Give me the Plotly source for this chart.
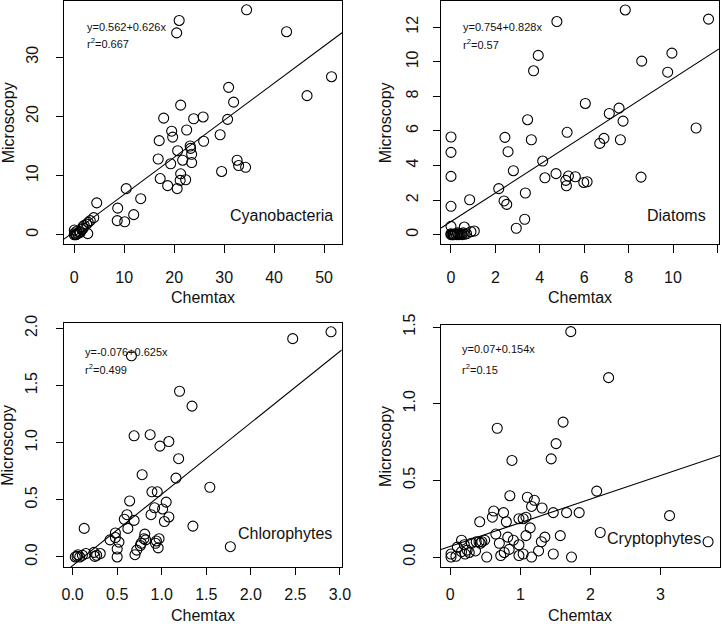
import plotly.graph_objects as go
import numpy as np

# ---------------- data ----------------
groups = ["Cyanobacteria", "Diatoms", "Chlorophytes", "Cryptophytes"]
intercepts = [0.562, 0.754, -0.076, 0.07]
slopes = [0.626, 0.828, 0.625, 0.154]
eq_labels = ["y=0.562+0.626x", "y=0.754+0.828x", "y=-0.076+0.625x", "y=0.07+0.154x"]
r2_labels = ["0.667", "0.57", "0.499", "0.15"]

cyano_x = [34.5, 21.0, 20.5, 42.5, 51.5, 46.6, 30.9, 31.9, 21.3, 30.7, 17.9, 23.9, 25.8,
           19.5, 19.7, 22.5, 29.2, 25.9, 17.0, 23.2, 23.3, 20.7, 23.5, 16.8, 21.7, 23.5,
           19.3, 32.6, 32.9, 34.3, 29.5, 21.3, 21.2, 22.3, 17.2, 18.7, 20.6, 10.4, 13.3,
           4.5, 8.7, 11.9, 8.6, 10.1,
           0.0, 0.0, 0.1, 0.4, 0.7, 0.5, 1.0, 1.5, 1.7, 2.0, 2.5, 2.8, 3.2, 3.9, 2.7, 1.8, 1.2, 0.3]
cyano_y = [38.0, 36.2, 34.1, 34.3, 26.7, 23.5, 24.9, 22.4, 21.9, 19.5, 19.7, 19.6, 19.9,
           17.5, 16.5, 17.7, 16.9, 15.8, 15.9, 15.0, 14.6, 14.2, 13.6, 12.8, 12.6, 12.2,
           12.0, 12.6, 11.7, 11.4, 10.7, 10.3, 9.2, 9.3, 9.5, 8.3, 7.8, 7.8, 6.1,
           5.4, 4.5, 3.4, 2.4, 2.2,
           0.8, 0.0, 0.3, 0.1, 0.2, 0.6, 0.5, 0.9, 1.35, 1.6, 1.8, 2.1, 2.4, 2.9, 0.2, 1.1, 0.4, 0.0]

diatom_x = [7.85, 11.6, 4.77, 3.93, 3.72, 9.95, 8.59, 9.76, 11.04, 6.05, 7.13, 7.57, 7.75,
            3.45, 6.89, 6.70, 7.63, 5.23, 2.43, 3.62, 2.57, 0.0, 0.0, 0.0, 0.0, 2.81, 4.13,
            4.73, 4.23, 5.17, 5.29, 5.20, 5.60, 5.98, 6.13, 8.56, 2.15, 3.35, 2.39, 2.51,
            0.84, 3.32, 2.94, 0.0, 1.05, 0.9, 0.6,
            0.0, 0.05, 0.1, 0.15, 0.2, 0.25, 0.3, 0.35, 0.4, 0.45, 0.5, 0.6, 0.7, 0.55, 0.3, 0.1, 0.0]
diatom_y = [13.0, 12.47, 12.33, 10.37, 9.48, 10.5, 10.04, 9.40, 6.17, 7.59, 7.01, 7.32, 6.57,
            6.65, 5.57, 5.28, 5.49, 5.92, 5.63, 5.49, 4.80, 5.65, 4.76, 3.37, 1.64, 3.70, 4.26,
            3.53, 3.29, 3.14, 3.39, 2.83, 3.35, 3.02, 3.06, 3.33, 2.66, 2.41, 1.95, 1.75,
            2.02, 0.89, 0.37, 0.48, 0.21, 0.17, 0.44,
            0.0, 0.0, 0.02, 0.0, 0.05, 0.0, 0.05, 0.0, 0.02, 0.05, 0.0, 0.02, 0.05, 0.1, 0.1, 0.0, 0.05]

chloro_x = [2.90, 2.47, 0.66, 1.20, 1.34, 0.69, 0.87, 1.08, 0.98, 1.19, 0.78, 1.16, 1.54,
            0.89, 0.95, 0.64, 1.05, 0.92, 1.01, 0.88, 0.61, 0.58, 1.08, 0.69, 1.03, 0.62,
            0.13, 1.35, 0.48, 0.42, 0.48, 0.52, 0.81, 0.80, 0.82, 0.77, 0.76, 0.72, 0.70,
            0.50, 0.50, 0.97, 0.94, 0.93, 0.96, 1.77,
            0.03, 0.05, 0.08, 0.11, 0.06, 0.15, 0.24, 0.27, 0.31, 0.25]
chloro_y = [1.97, 1.91, 1.76, 1.45, 1.32, 1.06, 1.07, 1.01, 0.97, 0.86, 0.72, 0.69, 0.61,
            0.57, 0.57, 0.49, 0.48, 0.43, 0.42, 0.37, 0.37, 0.33, 0.35, 0.32, 0.31, 0.25,
            0.25, 0.27, 0.21, 0.15, 0.17, 0.13, 0.20, 0.16, 0.15, 0.12, 0.10, 0.06, 0.02,
            0.07, 0.00, 0.16, 0.14, 0.12, 0.08, 0.09,
            0.0, 0.005, 0.0, 0.015, 0.02, 0.03, 0.04, 0.015, 0.03, 0.005]

crypto_x = [1.72, 2.26, 0.67, 1.61, 1.51, 1.44, 0.88, 2.09, 0.85, 1.10, 1.20, 1.16, 1.31,
            0.62, 0.76, 1.47, 1.66, 1.84, 3.13, 0.60, 1.08, 0.98, 1.04, 0.42, 0.80, 1.14,
            2.14, 0.65, 1.08, 1.57, 1.35, 1.30, 0.82, 0.90, 0.70, 0.98, 3.68, 0.84, 1.26,
            0.77, 0.72, 1.47, 1.04, 0.98, 1.16, 1.73, 0.52,
            0.16, 0.10, 0.01, 0.01, 0.08, 0.24, 0.21, 0.27, 0.30, 0.36, 0.37, 0.43, 0.45,
            0.49, 0.41, 0.20, 0.16]
crypto_y = [1.47, 1.17, 0.84, 0.88, 0.74, 0.64, 0.63, 0.43, 0.40, 0.39, 0.37, 0.33, 0.32,
            0.30, 0.29, 0.29, 0.29, 0.29, 0.27, 0.26, 0.26, 0.25, 0.25, 0.23, 0.23, 0.19,
            0.16, 0.15, 0.14, 0.14, 0.13, 0.10, 0.13, 0.11, 0.09, 0.08, 0.10, 0.05, 0.04,
            0.03, 0.01, 0.02, 0.02, 0.01, 0.0, 0.0, 0.0,
            0.11, 0.065, 0.02, 0.0, 0.005, 0.045, 0.02, 0.03, 0.09, 0.04, 0.10, 0.09, 0.10,
            0.11, 0.10, 0.08, 0.035]

xs = [cyano_x, diatom_x, chloro_x, crypto_x]
ys = [cyano_y, diatom_y, chloro_y, crypto_y]

# ---------------- layout geometry ----------------
W, H = 722, 624
x_domains = [[0.0886, 0.4737], [0.6108, 0.9958], [0.0886, 0.4733], [0.6108, 0.9972]]
y_domains = [[0.609, 0.999], [0.609, 0.999], [0.0913, 0.4829], [0.0913, 0.4796]]
x_ranges = [[-2.06, 53.6], [-0.45, 12.07], [-0.097, 3.02], [-0.133, 3.85]]
y_ranges = [[-1.55, 39.55], [-0.54, 13.54], [-0.088, 2.05], [-0.065, 1.515]]
x_ticks = [[0, 10, 20, 30, 40, 50], [0, 2, 4, 6, 8, 10, 12],
           [0, 0.5, 1, 1.5, 2, 2.5, 3], [0, 1, 2, 3]]
y_ticks = [[0, 10, 20, 30], [0, 2, 4, 6, 8, 10, 12], [0, 0.5, 1, 1.5, 2], [0, 0.5, 1, 1.5]]
x_fmt = ["d", "d", ".1f", "d"]
y_fmt = ["d", "d", ".1f", ".1f"]
x_ticklen = [8, 8, 7, 7]
x_standoff = [11, 11, 6, 6]
y_standoff = [12, 9, 13, 12]
xtitle_shift = [-54, -54, -48, -48]
ytitle_shift = [-56, -56, -56, -55]
label_pos = [(0.975, 0.115), (0.96, 0.115), (0.972, 0.139), (0.938, 0.116)]
eq_pos = [(0.074, 0.893, 0.824), (0.072, 0.893, 0.82), (0.068, 0.88, 0.81), (0.068, 0.90, 0.817)]

FONT = "Liberation Sans, Arial, sans-serif"
fig = go.Figure()
annotations = []

for i in range(4):
    n = "" if i == 0 else str(i + 1)
    xa, ya = "x" + n, "y" + n
    fig.add_trace(go.Scatter(
        x=xs[i], y=ys[i], mode="markers", xaxis=xa, yaxis=ya,
        marker=dict(symbol="circle-open", size=10, color="black", line=dict(width=1.1)),
        showlegend=False, hoverinfo="x+y"))
    lx = np.array(x_ranges[i])
    fig.add_trace(go.Scatter(
        x=lx, y=intercepts[i] + slopes[i] * lx, mode="lines", xaxis=xa, yaxis=ya,
        line=dict(color="black", width=1.1), showlegend=False, hoverinfo="skip"))

    axis_common = dict(showline=True, linecolor="black", linewidth=1, mirror=True,
                       ticks="outside", tickcolor="black", tickwidth=1,
                       showgrid=False, zeroline=False, automargin=False,
                       tickfont=dict(family=FONT, size=16, color="#111"))
    fig.update_layout(**{
        "xaxis" + n: dict(domain=x_domains[i], range=x_ranges[i], tickvals=x_ticks[i],
                          tickformat=x_fmt[i], anchor=ya, ticklen=x_ticklen[i],
                          ticklabelstandoff=x_standoff[i], **axis_common),
        "yaxis" + n: dict(domain=y_domains[i], range=y_ranges[i], tickvals=y_ticks[i],
                          tickformat=y_fmt[i], anchor=xa, tickangle=-90, ticklen=7,
                          ticklabelstandoff=y_standoff[i], **axis_common),
    })

    xd = "x" + n + " domain"
    yd = "y" + n + " domain"
    annotations.append(dict(text="Chemtax", xref=xd, yref=yd, x=0.5, y=0, yshift=xtitle_shift[i],
                            showarrow=False, xanchor="center", yanchor="middle",
                            font=dict(family=FONT, size=16, color="#111")))
    annotations.append(dict(text="Microscopy", xref=xd, yref=yd, x=0, y=0.5, xshift=ytitle_shift[i],
                            textangle=-90, showarrow=False, xanchor="center", yanchor="middle",
                            font=dict(family=FONT, size=16, color="#111")))
    annotations.append(dict(text=groups[i], xref=xd, yref=yd, x=label_pos[i][0], y=label_pos[i][1],
                            showarrow=False, xanchor="right", yanchor="middle",
                            font=dict(family=FONT, size=16, color="#111")))
    annotations.append(dict(text=eq_labels[i], xref=xd, yref=yd, x=eq_pos[i][0], y=eq_pos[i][1],
                            showarrow=False, xanchor="left", yanchor="middle",
                            font=dict(family=FONT, size=11, color="#111")))
    annotations.append(dict(text="r<sup>2</sup>=" + r2_labels[i], xref=xd, yref=yd,
                            x=eq_pos[i][0], y=eq_pos[i][2],
                            showarrow=False, xanchor="left", yanchor="middle",
                            font=dict(family=FONT, size=11, color="#111")))

fig.update_layout(template="none", width=W, height=H, margin=dict(l=0, r=0, t=0, b=0, pad=0),
                  paper_bgcolor="white", plot_bgcolor="white",
                  annotations=annotations, font=dict(family=FONT))

fig.write_html("out.html", config={"displayModeBar": False},
               post_script="document.body.style.margin='0';document.body.style.overflow='hidden';")
